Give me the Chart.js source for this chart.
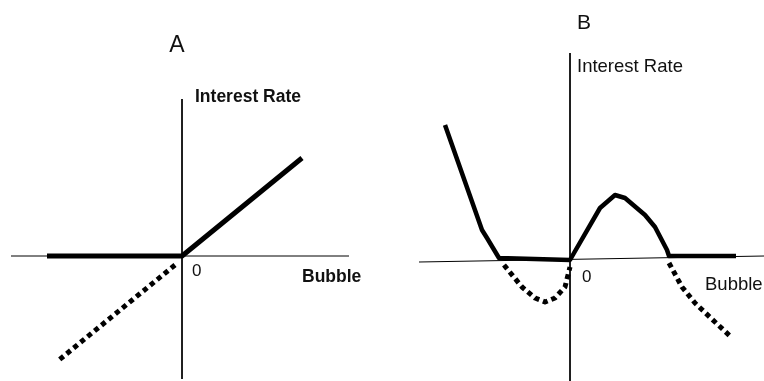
<!DOCTYPE html>
<html>
<head>
<meta charset="utf-8">
<script src="https://cdn.jsdelivr.net/npm/chart.js@4.4.1/dist/chart.umd.min.js"></script>
<style>
  html, body { margin: 0; padding: 0; background: #ffffff; }
  #wrap { display: flex; width: 764px; height: 381px; }
  canvas { display: block; }
</style>
</head>
<body>
<div id="wrap">
  <canvas id="chartA" width="382" height="381"></canvas>
  <canvas id="chartB" width="382" height="381"></canvas>
</div>
<script>
// ---------- Panel A data (Bubble on x, Interest Rate on y) ----------
const aAxisX = [[-17.1, 0], [16.7, 0]];
const aAxisY = [[0, 15.7], [0, -12.3]];
const aSolid = [[-13.5, 0], [0, 0], [12.0, 9.8]];
const aDotted = [[-0.7, -0.9], [-12.3, -10.4]];
const aLabels = [
  { text: "A", x: -0.5, y: 21.0, bold: false, size: 23, align: "center" },
  { text: "Interest Rate", x: 1.3, y: 15.9, bold: true, size: 17.5, align: "left" },
  { text: "0", x: 1.0, y: -1.5, bold: false, size: 17, align: "left" },
  { text: "Bubble", x: 12.0, y: -2.1, bold: true, size: 17.5, align: "left" }
];

// ---------- Panel B data ----------
const bAxisX = [[-15.1, -0.2], [19.4, 0.4]];
const bAxisY = [[0, 20.7], [0, -12.1]];
const bSolid = [
  [-12.5, 13.5], [-8.8, 3.0], [-8.3, 2.2], [-7.1, 0.2], [0, 0], [0.4, 0.7],
  [3.0, 5.2], [4.5, 6.5], [5.5, 6.2], [7.5, 4.5], [8.5, 3.3], [9.7, 1.0],
  [9.9, 0.4], [16.6, 0.4]
];
const bDottedLeft = [[-6.6, -0.5], [-4.8, -2.7], [-3.5, -3.8], [-2.5, -4.2], [-1.5, -3.8], [-0.5, -2.7], [0, -0.7]];
const bDottedRight = [[9.9, -0.3], [11.2, -2.7], [12.5, -4.3], [14.5, -6.2], [16.0, -7.6]];
const bLabels = [
  { text: "B", x: 1.4, y: 23.7, bold: false, size: 21, align: "center" },
  { text: "Interest Rate", x: 0.7, y: 19.3, bold: false, size: 18.5, align: "left" },
  { text: "0", x: 1.2, y: -1.7, bold: false, size: 17, align: "left" },
  { text: "Bubble", x: 13.5, y: -2.5, bold: false, size: 18.5, align: "left" }
];

const toPts = arr => arr.map(p => ({ x: p[0], y: p[1] }));

const textPlugin = {
  id: 'textLabels',
  afterDatasetsDraw(chart, args, opts) {
    const ctx = chart.ctx;
    const sx = chart.scales.x, sy = chart.scales.y;
    ctx.save();
    ctx.fillStyle = '#111';
    ctx.textBaseline = 'middle';
    (opts.items || []).forEach(l => {
      ctx.font = (l.bold ? 'bold ' : '') + l.size + 'px "Liberation Sans", Arial, sans-serif';
      ctx.textAlign = l.align;
      ctx.fillText(l.text, sx.getPixelForValue(l.x), sy.getPixelForValue(l.y));
    });
    ctx.restore();
  }
};

function lineDs(data, width, dash) {
  return {
    data: toPts(data),
    showLine: true,
    borderColor: '#000',
    backgroundColor: '#000',
    borderWidth: width,
    borderDash: dash || [],
    borderCapStyle: 'butt',
    borderJoinStyle: 'round',
    pointRadius: 0,
    tension: 0,
    clip: false
  };
}

function makeChart(id, datasets, labels, xr, yr) {
  return new Chart(document.getElementById(id), {
    type: 'scatter',
    data: { datasets },
    options: {
      responsive: false,
      animation: false,
      events: [],
      layout: { padding: 0 },
      plugins: { legend: { display: false }, tooltip: { enabled: false }, textLabels: { items: labels } },
      scales: {
        x: { type: 'linear', display: false, min: xr[0], max: xr[1] },
        y: { type: 'linear', display: false, min: yr[0], max: yr[1] }
      }
    },
    plugins: [textPlugin]
  });
}

makeChart('chartA', [
  lineDs(aAxisX, 1),
  lineDs(aAxisY, 1),
  lineDs(aSolid, 5),
  lineDs(aDotted, 5, [5, 4])
], aLabels, [-18.2, 20.0], [-12.5, 25.6]);

makeChart('chartB', [
  lineDs(bAxisX, 1),
  lineDs(bAxisY, 1),
  lineDs(bSolid, 4.5),
  lineDs(bDottedLeft, 5, [5, 4]),
  lineDs(bDottedRight, 5, [5, 4])
], bLabels, [-18.8, 19.4], [-12.1, 26.0]);
</script>
</body>
</html>
